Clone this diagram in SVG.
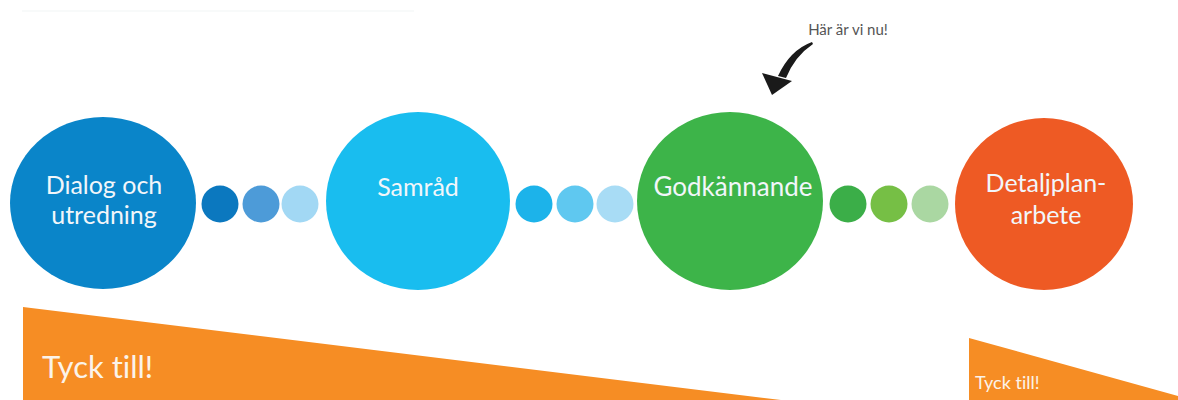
<svg xmlns="http://www.w3.org/2000/svg" width="1178" height="400" viewBox="0 0 1178 400">
<style>
.lbl{font-family:Lato,"Open Sans","DejaVu Sans",sans-serif;fill:#f2f6fa;text-anchor:middle;font-size:25px;font-variant-ligatures:none}
.tt{font-family:Lato,"Open Sans","DejaVu Sans",sans-serif;fill:#fbf3ea;font-variant-ligatures:none}
</style>
<rect width="1178" height="400" fill="#ffffff"/>
<line x1="22" y1="11" x2="414" y2="11" stroke="#f1f5f5" stroke-width="1"/>
<g id="connectors">
  <circle cx="220" cy="204" r="18.5" fill="#0b78bf"/>
  <circle cx="261" cy="204" r="18.5" fill="#4d9bd8"/>
  <circle cx="300" cy="204" r="18.5" fill="#a2d8f4"/>
  <circle cx="534" cy="204" r="18.5" fill="#1cb3ea"/>
  <circle cx="575" cy="204" r="18.5" fill="#5fc8f0"/>
  <circle cx="615" cy="204" r="18.5" fill="#a8dcf5"/>
  <circle cx="848" cy="204" r="18.5" fill="#3bae48"/>
  <circle cx="889" cy="204" r="18.5" fill="#76bf45"/>
  <circle cx="930" cy="204" r="18.5" fill="#aad7a2"/>
</g>
<g id="n1">
  <ellipse cx="103" cy="203" rx="93" ry="86" fill="#0a85c9"/>
  <text class="lbl" x="104" y="194" font-size="26">Dialog och</text>
  <text class="lbl" x="104" y="224" font-size="26">utredning</text>
</g>
<g id="n2">
  <ellipse cx="418" cy="201" rx="92" ry="89" fill="#19bdef"/>
  <text class="lbl" x="418" y="196">Samråd</text>
</g>
<g id="n3">
  <ellipse cx="730" cy="201" rx="93" ry="89" fill="#3db449"/>
  <text class="lbl" x="733" y="196" style="font-size:26px">Godkännande</text>
</g>
<g id="n4">
  <ellipse cx="1044" cy="204" rx="89" ry="86" fill="#ee5a24"/>
  <text class="lbl" x="1046" y="192">Detaljplan-</text>
  <text class="lbl" x="1046" y="224">arbete</text>
</g>
<g id="marker">
  <text x="848" y="35" font-family="Lato,'Open Sans','DejaVu Sans',sans-serif" font-size="15" fill="#555555" text-anchor="middle">Här är vi nu!</text>
  <path d="M812,42 Q790,50 778,76 L786,78 Q795,56 813,44 Z" fill="#1a1a1a"/>
  <polygon points="762,73 792,81 772,95" fill="#1a1a1a"/>
</g>
<g id="banner1">
  <polygon points="23,307 781,400 23,400" fill="#f68d24"/>
  <text class="tt" x="42" y="378" font-size="31">Tyck till!</text>
</g>
<g id="banner2">
  <polygon points="969,338 1178,396 1178,400 969,400" fill="#f68d24"/>
  <text class="tt" x="975" y="389" font-size="18">Tyck till!</text>
</g>
</svg>
